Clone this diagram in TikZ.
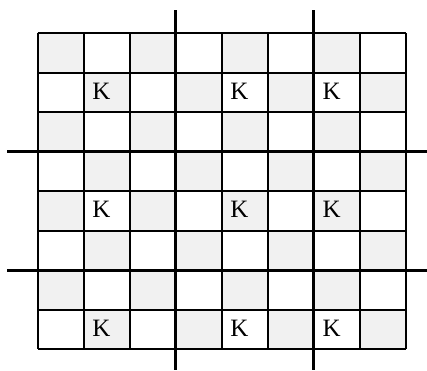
\documentclass[tikz,border=0pt]{standalone}
\usepackage{fontspec}
\setmainfont{Liberation Serif}
\definecolor{cellgray}{RGB}{241,241,241}
\begin{document}
\begin{tikzpicture}[x=1pt,y=-1pt,
  gridline/.style={line width=2pt,black},
  thickline/.style={line width=3.2pt,black},
  klabel/.style={anchor=base west,inner sep=0pt,font=\fontsize{25}{25}\selectfont}]
\def\X{37.5}\def\W{46.06}\def\Y{33.3}\def\H{39.5}
\useasboundingbox (0,0) rectangle (427,370);
% checkerboard shading
\foreach \r in {0,...,7}{
  \foreach \c in {0,...,7}{
    \pgfmathtruncatemacro\s{mod(\r+\c,2)}
    \ifnum\s=0
      \fill[cellgray] (\X+\c*\W,\Y+\r*\H) rectangle (\X+\c*\W+\W,\Y+\r*\H+\H);
    \fi
  }
}
% grid lines
\foreach \i in {0,...,8}{
  \draw[gridline] (\X+\i*\W,\Y) -- (\X+\i*\W,\Y+8*\H);
  \draw[gridline] (\X,\Y+\i*\H) -- (\X+8*\W,\Y+\i*\H);
}
% thick block lines
\foreach \i in {3,6}{
  \draw[thickline] (\X+\i*\W,10) -- (\X+\i*\W,370);
  \draw[thickline] (7.3,\Y+\i*\H) -- (427,\Y+\i*\H);
}
% K labels
\foreach \r in {1,4,7}{
  \foreach \c in {1,4,6}{
    \node[klabel] (k\r\c) at (\X+\c*\W+8.5,\Y+\r*\H+26.3) {K};
  }
}
\end{tikzpicture}
\end{document}
